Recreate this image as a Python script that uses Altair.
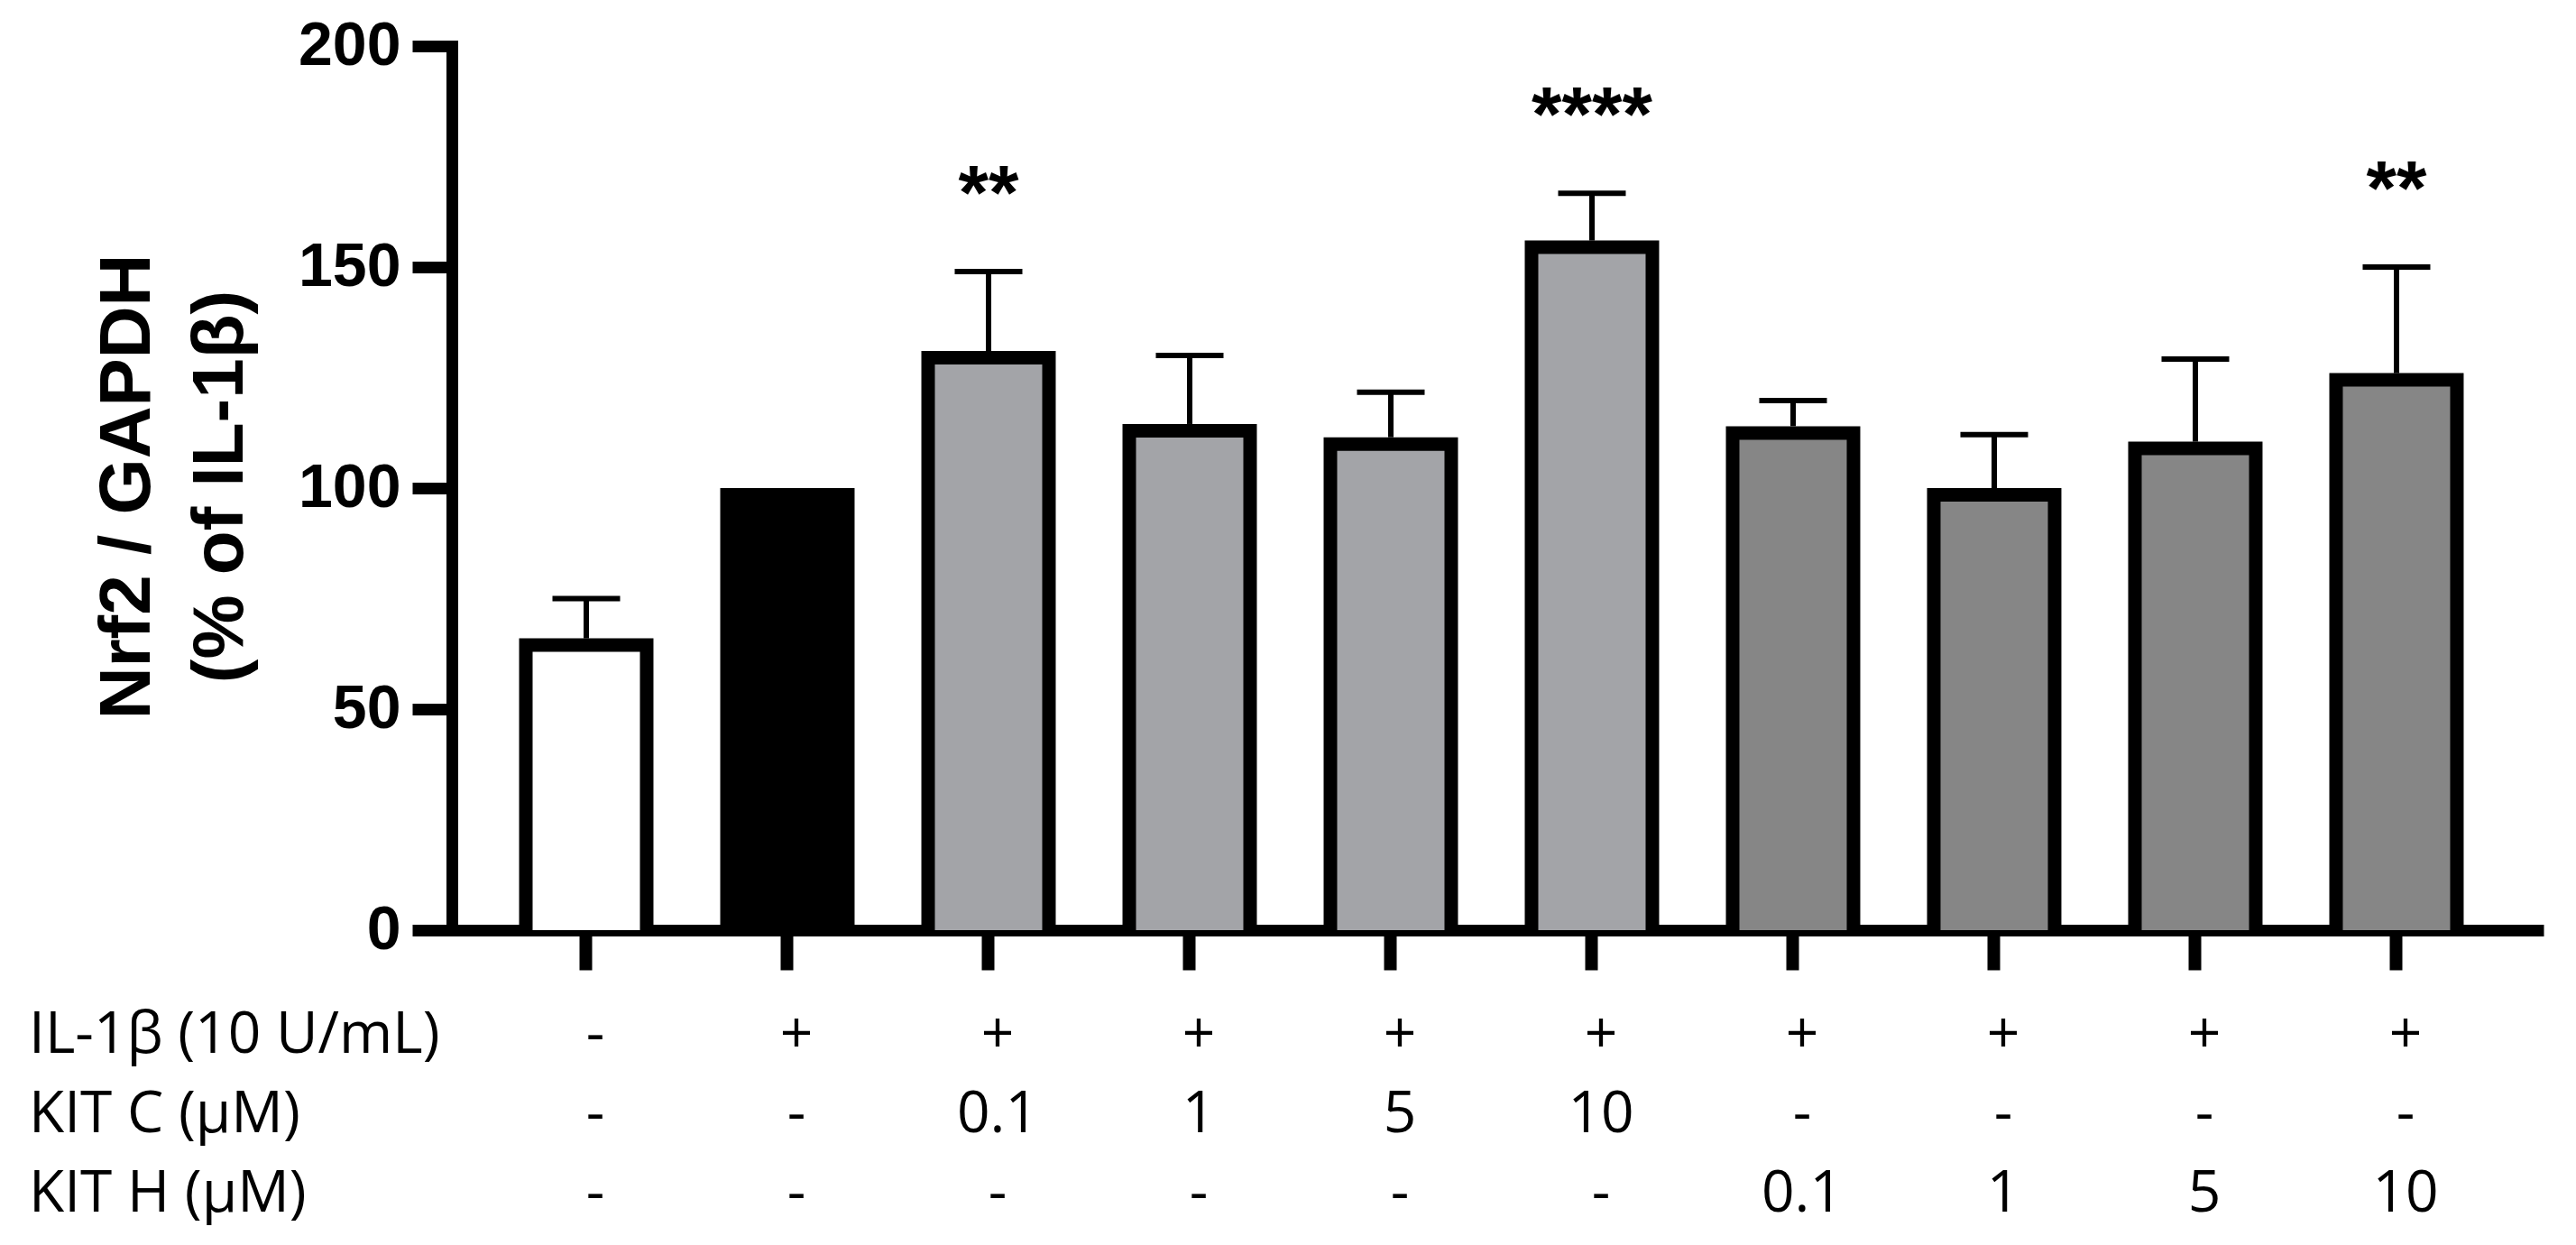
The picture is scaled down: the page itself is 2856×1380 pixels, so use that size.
import altair as alt
import pandas as pd

# ---- data ----
groups = ["ctrl", "il1b", "c0.1", "c1", "c5", "c10", "h0.1", "h1", "h5", "h10"]
means = [66, 100, 131, 114.5, 111.5, 156, 114, 100, 110.5, 126]
err_top = [75, None, 149, 130, 121.7, 166.7, 119.8, 112.1, 129.2, 150]
stars = ["", "", "**", "", "", "****", "", "", "", "**"]
fills = ["#FFFFFF", "#000000", "#A3A4A8", "#A3A4A8", "#A3A4A8", "#A3A4A8",
         "#868686", "#868686", "#868686", "#868686"]

row_labels = ["IL-1β (10 U/mL)", "KIT C (μM)", "KIT H (μM)"]
il1b_row = ["-", "+", "+", "+", "+", "+", "+", "+", "+", "+"]
kitc_row = ["-", "-", "0.1", "1", "5", "10", "-", "-", "-", "-"]
kith_row = ["-", "-", "-", "-", "-", "-", "0.1", "1", "5", "10"]
y_ticks = [0, 50, 100, 150, 200]

df = pd.DataFrame({"group": groups, "mean": means, "err": err_top,
                   "star": stars, "il1b": il1b_row, "kitc": kitc_row, "kith": kith_row})
df_err = df[df["err"].notna()]
df_star = df[df["star"] != ""]

W, H = 2319, 980

xscale = alt.Scale(domain=groups, paddingInner=0.332, paddingOuter=0.3656, align=0.457)
yscale = alt.Scale(domain=[0, 200], nice=False, zero=True)

x_enc = alt.X("group:N", scale=xscale, sort=groups,
              axis=alt.Axis(labels=False, title=None, tickSize=44, tickWidth=14,
                            tickColor="black", domainWidth=13, domainColor="black",
                            grid=False, ticks=True))
y_axis = alt.Axis(values=y_ticks, grid=False, tickSize=44, tickWidth=13, tickColor="black",
                  domainWidth=13, domainColor="black", domainCap="square",
                  labelFont="Liberation Sans", labelFontWeight="bold", labelFontSize=68,
                  labelColor="black", labelPadding=13,
                  title=["Nrf2 / GAPDH", "(% of IL-1β)"], titleFont="Liberation Sans",
                  titleFontWeight="bold", titleFontSize=80, titleColor="black",
                  titleAngle=270, titleX=-360, titleY=488, titleAlign="center",
                  titleBaseline="middle", titleLineHeight=103)

base = alt.Chart(df)

outer = base.mark_bar(color="black").encode(
    x=x_enc,
    y=alt.Y("mean:Q", scale=yscale, axis=y_axis),
    y2=alt.datum(0),
)
inner = base.mark_bar(width=119, yOffset=15).encode(
    x=alt.X("group:N", scale=xscale, sort=groups),
    y=alt.Y("mean:Q", scale=yscale),
    y2=alt.datum(0),
    color=alt.Color("group:N", scale=alt.Scale(domain=groups, range=fills), legend=None),
)
rule = alt.Chart(df_err).mark_rule(color="black", strokeWidth=6).encode(
    x=alt.X("group:N", scale=xscale, sort=groups),
    y=alt.Y("mean:Q", scale=yscale),
    y2="err:Q",
)
cap = alt.Chart(df_err).mark_tick(color="black", thickness=6, size=75, opacity=1).encode(
    x=alt.X("group:N", scale=xscale, sort=groups),
    y=alt.Y("err:Q", scale=yscale),
)
star = alt.Chart(df_star).mark_text(font="Liberation Sans", fontSize=86, fontWeight="bold",
                                    color="black", baseline="alphabetic", align="center",
                                    dy=-58).encode(
    x=alt.X("group:N", scale=xscale, sort=groups),
    y=alt.Y("err:Q", scale=yscale),
    text="star:N",
)

layers = [outer, inner, rule, cap, star]

row_y = [1116, 1204, 1292]
for field, yy in zip(["il1b", "kitc", "kith"], row_y):
    layers.append(
        base.mark_text(font="Open Sans", fontSize=64, color="black", baseline="alphabetic",
                       align="center", dx=10).encode(
            x=alt.X("group:N", scale=xscale, sort=groups),
            y=alt.value(yy),
            text=f"{field}:N",
        )
    )

lab_df = pd.DataFrame({"label": row_labels, "ypix": row_y})
layers.append(
    alt.Chart(lab_df).mark_text(font="Open Sans", fontSize=64, color="black",
                                baseline="alphabetic", align="left").encode(
        x=alt.value(-469),
        y=alt.Y("ypix:Q", scale=None),
        text="label:N",
    )
)

chart = alt.layer(*layers).properties(
    width=W, height=H,
    background="white",
    autosize=alt.AutoSizeParams(type="none"),
    padding={"left": 493, "top": 43, "right": 28, "bottom": 341},
).configure_view(stroke=None)

chart.save("out.html", embed_options={"renderer": "svg", "actions": False})
